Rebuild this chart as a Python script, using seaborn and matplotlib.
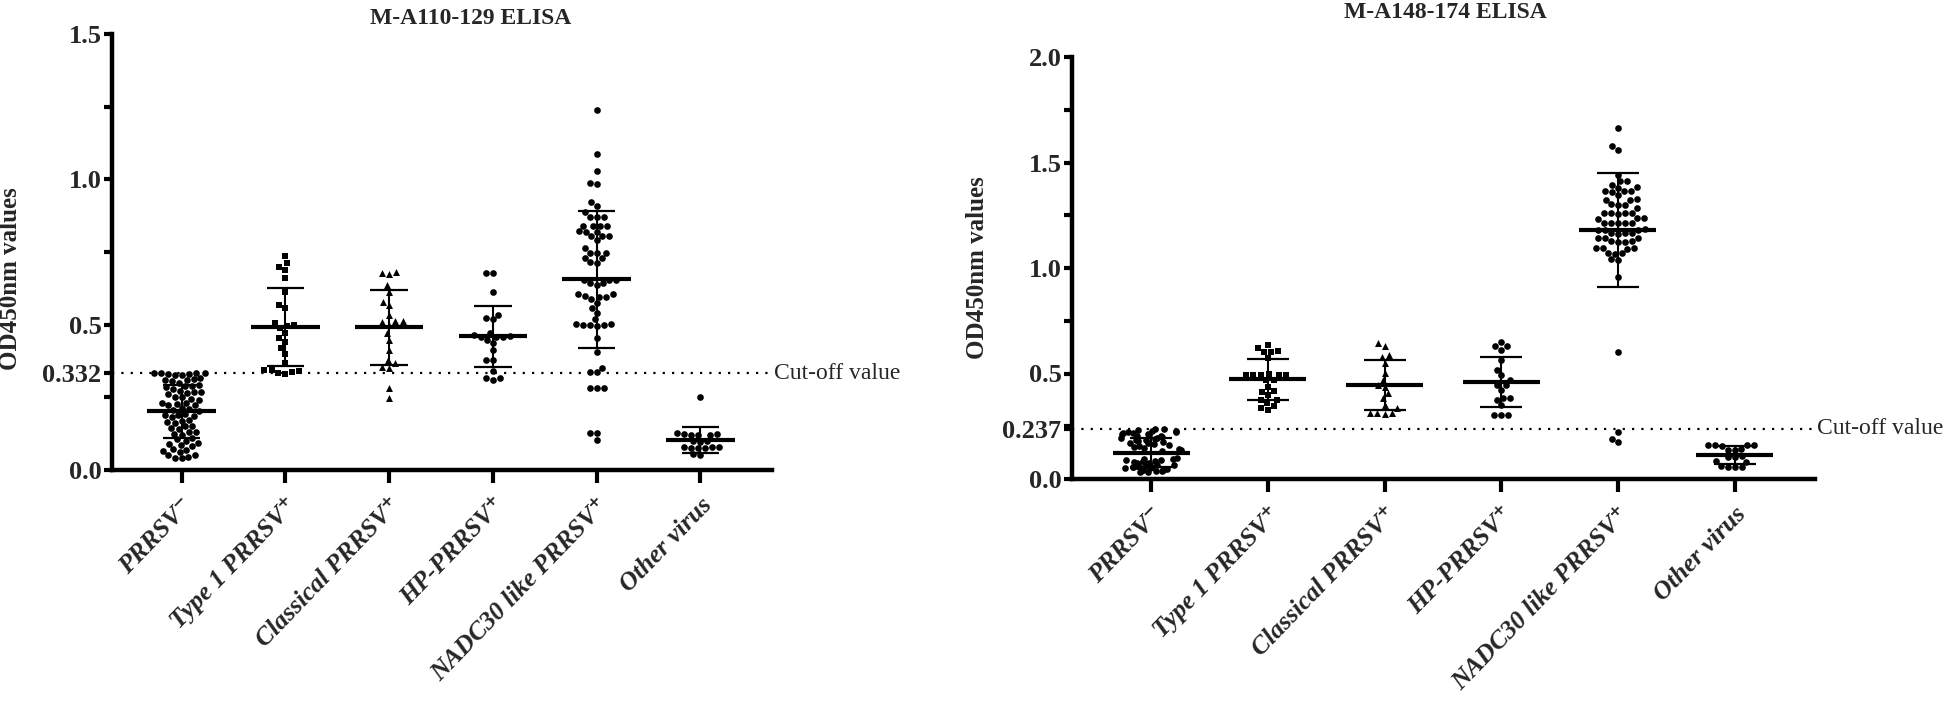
import numpy as np
import pandas as pd
import matplotlib
matplotlib.use("Agg")
import matplotlib.pyplot as plt
import seaborn as sns

sns.set_style("ticks")
plt.rcParams['font.family'] = ['Liberation Serif', 'DejaVu Serif']
np.random.seed(3)  # only for the horizontal jitter of one dense group

# ---------------- data ----------------
categories = ["PRRSV-", "Type1", "Classical", "HP", "NADC30", "Other"]
tick_labels = ["PRRSV\u207b", "Type 1 PRRSV\u207a", "Classical PRRSV\u207a",
               "HP-PRRSV\u207a", "NADC30 like PRRSV\u207a", "Other virus"]
markers = ["o", "s", "^", "o", "o", "o"]

# Panel 1: M-A110-129 ELISA
p1_neg = [0.335, 0.333, 0.330, 0.332, 0.328, 0.334, 0.326, 0.331,
          0.312, 0.308, 0.315, 0.305, 0.310, 0.300,
          0.290, 0.285, 0.292, 0.280, 0.288,
          0.270, 0.265, 0.272, 0.262, 0.268,
          0.250, 0.245, 0.252, 0.242,
          0.230, 0.225, 0.232, 0.222, 0.228,
          0.210, 0.205, 0.212, 0.202,
          0.190, 0.185, 0.192, 0.182, 0.188,
          0.170, 0.165, 0.172, 0.162,
          0.150, 0.145, 0.152, 0.142,
          0.130, 0.125, 0.132, 0.122,
          0.110, 0.105, 0.100,
          0.090, 0.085, 0.092, 0.082,
          0.070, 0.065, 0.072, 0.062,
          0.050, 0.045, 0.052, 0.042, 0.040]
p1_type1 = [0.735, 0.712, 0.700, 0.689, 0.660, 0.614, 0.568, 0.557, 0.500, 0.495,
            0.488, 0.505, 0.471, 0.455, 0.442, 0.420, 0.400, 0.367, 0.345, 0.340,
            0.338, 0.335, 0.330, 0.345]
p1_classical = [0.677, 0.680, 0.674, 0.637, 0.614, 0.579, 0.568, 0.534, 0.511, 0.512,
                0.509, 0.499, 0.471, 0.448, 0.413, 0.379, 0.367, 0.356, 0.352, 0.281, 0.247]
p1_hp = [0.679, 0.678, 0.611, 0.534, 0.522, 0.520, 0.471, 0.465, 0.459, 0.460,
         0.458, 0.457, 0.448, 0.436, 0.413, 0.379, 0.378, 0.339, 0.316, 0.315, 0.310]
p1_nadc30 = [1.238, 1.087, 1.029, 0.988, 0.985, 0.923, 0.908, 0.889, 0.871, 0.870,
             0.872, 0.839, 0.840, 0.838, 0.841, 0.820, 0.821, 0.819, 0.805, 0.806,
             0.804, 0.791, 0.764, 0.747, 0.748, 0.746, 0.729, 0.730, 0.713, 0.714,
             0.654, 0.655, 0.653, 0.644, 0.645, 0.636, 0.605, 0.606, 0.596, 0.597,
             0.595, 0.588, 0.574, 0.557, 0.541, 0.519, 0.499, 0.500, 0.498, 0.501,
             0.497, 0.502, 0.455, 0.407, 0.351, 0.338, 0.337, 0.282, 0.283, 0.281,
             0.127, 0.126, 0.103]
p1_other = [0.252, 0.125, 0.122, 0.128, 0.120, 0.124, 0.119, 0.099, 0.101, 0.097,
            0.078, 0.077, 0.079, 0.076, 0.075, 0.080, 0.055, 0.053]
p1_cutoff = 0.332

# Panel 2: M-A148-174 ELISA
p2_neg = [0.236, 0.235, 0.231, 0.229, 0.228, 0.224, 0.221, 0.220, 0.217, 0.214,
          0.212, 0.209, 0.205, 0.204, 0.200, 0.196, 0.195, 0.190, 0.186, 0.184,
          0.179, 0.177, 0.171, 0.169, 0.164, 0.161, 0.157, 0.151, 0.149, 0.142,
          0.139, 0.133,
          0.101, 0.096, 0.093, 0.090, 0.088, 0.084, 0.083, 0.079, 0.078, 0.075,
          0.074, 0.071, 0.070, 0.067, 0.066, 0.063, 0.062, 0.061, 0.058, 0.057,
          0.055, 0.054, 0.051, 0.050, 0.049, 0.046, 0.045, 0.044, 0.041, 0.040,
          0.038, 0.037, 0.034, 0.033]
p2_type1 = [0.636, 0.620, 0.604, 0.606, 0.600, 0.573, 0.500, 0.493, 0.494, 0.492,
            0.495, 0.491, 0.470, 0.471, 0.438, 0.414, 0.415, 0.398, 0.375, 0.376,
            0.360, 0.346, 0.327, 0.335]
p2_classical = [0.643, 0.628, 0.588, 0.580, 0.549, 0.501, 0.470, 0.446, 0.438, 0.406,
                0.383, 0.351, 0.335, 0.311, 0.312, 0.310, 0.313]
p2_hp = [0.651, 0.628, 0.629, 0.612, 0.564, 0.517, 0.493, 0.470, 0.446, 0.447,
         0.422, 0.383, 0.384, 0.375, 0.351, 0.304, 0.305, 0.303]
p2_nadc30 = [1.663, 1.576, 1.560, 1.442, 1.410, 1.412, 1.395, 1.380, 1.382, 1.363,
             1.365, 1.361, 1.366, 1.347, 1.323, 1.325, 1.321, 1.300, 1.302, 1.298,
             1.284, 1.260, 1.262, 1.258, 1.261, 1.259, 1.236, 1.238, 1.234, 1.213,
             1.215, 1.211, 1.214, 1.212, 1.181, 1.183, 1.179, 1.180, 1.165, 1.167,
             1.163, 1.166, 1.142, 1.144, 1.140, 1.126, 1.128, 1.124, 1.125, 1.094,
             1.096, 1.092, 1.095, 1.070, 1.072, 1.068, 1.039, 1.041, 0.957, 0.601,
             0.225, 0.190, 0.175]
p2_other = [0.161, 0.163, 0.160, 0.162, 0.158, 0.138, 0.140, 0.137, 0.106, 0.105,
            0.107, 0.082, 0.083, 0.058, 0.057, 0.059, 0.060]
p2_cutoff = 0.237

p1_groups = [p1_neg, p1_type1, p1_classical, p1_hp, p1_nadc30, p1_other]
p2_groups = [p2_neg, p2_type1, p2_classical, p2_hp, p2_nadc30, p2_other]

# ---------------- figure ----------------
W, H = 1943, 702
fig = plt.figure(figsize=(W / 100, H / 100), dpi=100)
ax1 = fig.add_axes([112 / W, 1 - 470 / H, (772 - 112) / W, (470 - 34) / H])
ax2 = fig.add_axes([1072 / W, 1 - 479 / H, (1815 - 1072) / W, (479 - 57) / H])


def draw_panel(ax, groups, cutoff, ymax, yticks, ylabels, minors, xlim, dense_first=False):
    for i, (cat, vals, m) in enumerate(zip(categories, groups, markers)):
        df = pd.DataFrame({"group": [cat] * len(vals), "value": vals})
        if dense_first and i == 0:
            sns.stripplot(data=df, x="group", y="value", order=categories, ax=ax,
                          color="black", marker=m, size=4.8, jitter=0.27,
                          linewidth=0, zorder=3)
        else:
            sns.swarmplot(data=df, x="group", y="value", order=categories, ax=ax,
                          color="black", marker=m, size=4.8 if m == "o" else 5.0,
                          linewidth=0, zorder=3, warn_thresh=1.0)
        arr = np.asarray(vals)
        mu, sd = arr.mean(), arr.std(ddof=1)
        ax.hlines(mu, i - 0.33, i + 0.33, color="black", lw=3, zorder=5)
        ax.vlines(i, mu - sd, mu + sd, color="black", lw=1.5, zorder=5)
        ax.hlines([mu - sd, mu + sd], i - 0.18, i + 0.18, color="black", lw=1.6, zorder=5)
    ax.axhline(cutoff, color="black", lw=1.6, ls=(0, (1, 3.2)), zorder=2)
    ax.set_xlim(*xlim)
    ax.set_ylim(0, ymax)
    ax.set_xticks(range(len(categories)))
    ax.set_xticklabels(tick_labels, rotation=46, ha="right", rotation_mode="anchor",
                       fontsize=18.5, fontweight="bold", fontstyle="italic")
    ax.set_yticks(yticks)
    ax.set_yticklabels(ylabels, fontsize=19, fontweight="bold")
    ax.set_yticks(minors, minor=True)
    ax.set_xlabel("")
    ax.set_ylabel("OD450nm values", fontsize=18, fontweight="bold")
    ax.tick_params(axis="both", which="both", direction="out", width=3, color="black")
    ax.tick_params(axis="y", which="both", length=5.5, pad=2)
    ax.tick_params(axis="x", which="major", length=9, pad=8)
    for s in ("top", "right"):
        ax.spines[s].set_visible(False)
    for s in ("left", "bottom"):
        ax.spines[s].set_linewidth(3.2)
        ax.spines[s].set_color("black")
    ax.text(xlim[1] + 0.02, cutoff, "Cut-off value", fontsize=17, va="center",
            ha="left", clip_on=False)


draw_panel(ax1, p1_groups, p1_cutoff, 1.5,
           [0.0, p1_cutoff, 0.5, 1.0, 1.5], ["0.0", "0.332", "0.5", "1.0", "1.5"],
           [0.25, 0.75, 1.25], (-0.67, 5.69))
draw_panel(ax2, p2_groups, p2_cutoff, 2.0,
           [0.0, p2_cutoff, 0.5, 1.0, 1.5, 2.0], ["0.0", "0.237", "0.5", "1.0", "1.5", "2.0"],
           [0.25, 0.75, 1.25, 1.75], (-0.68, 5.69), dense_first=True)

ax1.yaxis.set_label_coords(-0.136, 0.44)
ax2.yaxis.set_label_coords(-0.112, 0.5)

fig.text(471 / W, 1 - 18 / H, "M-A110-129 ELISA", fontsize=17, fontweight="bold",
         ha="center", va="center")
fig.text(1445 / W, 1 - 13 / H, "M-A148-174 ELISA", fontsize=17, fontweight="bold",
         ha="center", va="center")

fig.savefig("out.png", dpi=100)
